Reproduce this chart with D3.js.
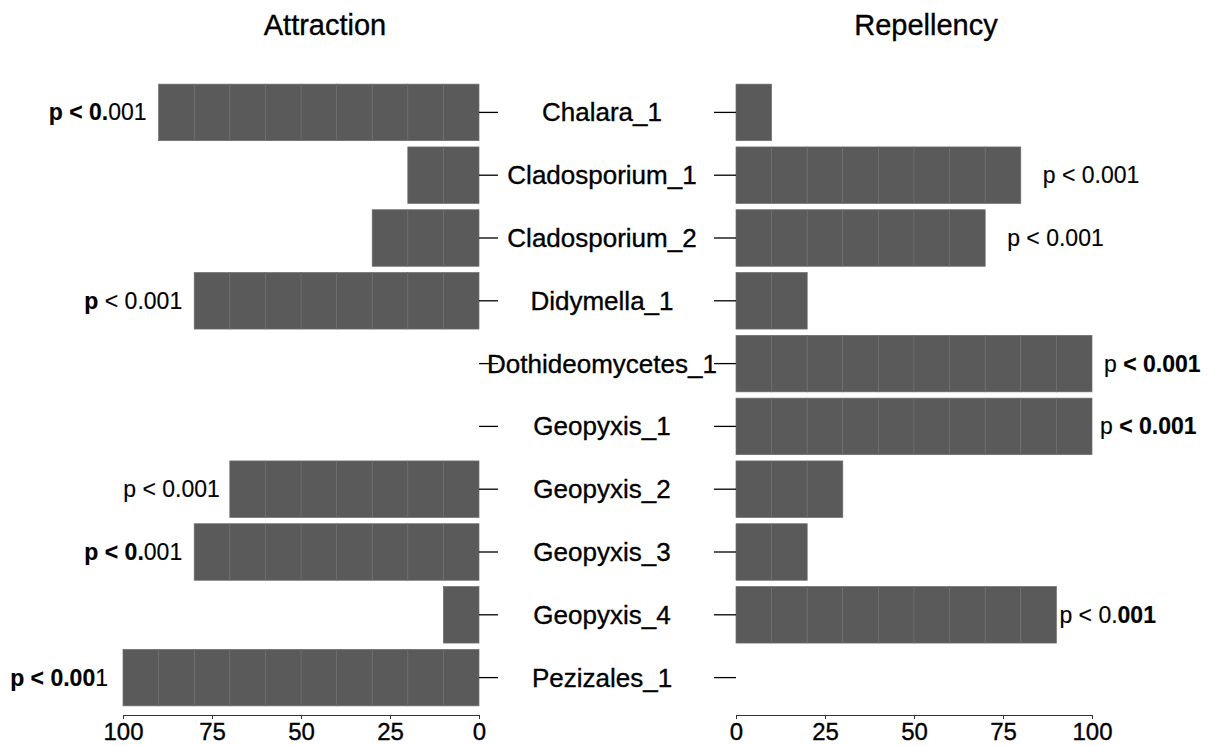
<!DOCTYPE html>
<html>
<head>
<meta charset="utf-8">
<style>
body { margin: 0; background: #fff; }
text { font-family: "Liberation Sans", Arial, sans-serif; fill: #000; stroke: #000; stroke-width: 0.35px; }
</style>
</head>
<body>
<svg id="chart" width="1214" height="746"></svg>
<script src="https://d3js.org/d3.v7.min.js"></script>
<script>

// taxa, top to bottom
const taxa = ["Chalara_1", "Cladosporium_1", "Cladosporium_2", "Didymella_1",
  "Dothideomycetes_1", "Geopyxis_1", "Geopyxis_2", "Geopyxis_3", "Geopyxis_4", "Pezizales_1"];

// percentages
const attraction = [90, 20, 30, 80, 0, 0, 70, 80, 10, 100];
const repellency = [10, 80, 70, 20, 100, 100, 30, 20, 90, 0];

const xTicks = [0, 25, 50, 75, 100];

// p labels, as [text, bold] pieces (the mixed weights are in the original)
const attractionP = [
  [["p < 0.", true], ["001", false]],
  null,
  null,
  [["p", true], [" < 0.001", false]],
  null,
  null,
  [["p < 0.001", false]],
  [["p < 0.", true], ["001", false]],
  null,
  [["p < 0.00", true], ["1", false]]
];
const repellencyP = [
  null,
  [["p < 0.001", false]],
  [["p < 0.001", false]],
  null,
  [["p ", false], ["< 0.001", true]],
  [["p ", false], ["< 0.001", true]],
  null,
  null,
  [["p < 0.", false], ["001", true]],
  null
];

// label gaps from bar end (px), hand placed in the original
const leftGap = [12, 12, 12, 12, 12, 12, 10, 12, 12, 15];
const rightGap = [22, 22, 22, 22, 12, 8, 22, 22, 3, 22];

const svg = d3.select("#chart");

const y = d3.scaleBand().domain(taxa).range([81, 709]).paddingInner(0.1).paddingOuter(0.05);
const xL = d3.scaleLinear().domain([0, 100]).range([479, 123]);
const xR = d3.scaleLinear().domain([0, 100]).range([736, 1092]);

const barFill = "#5a5a5a", segLine = "#6e6e6e";

function drawBars(g, values, x) {
  values.forEach((v, i) => {
    g.selectAll(null)
      .data(d3.range(0, v, 10))
      .join("rect")
      .attr("x", d => Math.min(x(d), x(d + 10)))
      .attr("width", d => Math.abs(x(d + 10) - x(d)))
      .attr("y", y(taxa[i]))
      .attr("height", y.bandwidth())
      .attr("fill", barFill)
      .attr("stroke", segLine)
      .attr("stroke-width", 0.7);
  });
}

drawBars(svg.append("g"), attraction, xL);
drawBars(svg.append("g"), repellency, xR);

// category ticks on both inner sides
svg.append("g")
  .attr("transform", "translate(479,0)")
  .call(d3.axisRight(y).tickSize(19).tickFormat(""))
  .call(g => g.select(".domain").remove())
  .selectAll("line").attr("stroke", "#000").attr("stroke-width", 1.3);

svg.append("g")
  .attr("transform", "translate(736,0)")
  .call(d3.axisLeft(y).tickSize(22).tickFormat(""))
  .call(g => g.select(".domain").remove())
  .selectAll("line").attr("stroke", "#000").attr("stroke-width", 1.3);

// category names in the middle
svg.append("g").selectAll("text")
  .data(taxa)
  .join("text")
  .attr("x", 602)
  .attr("y", d => y(d) + y.bandwidth() / 2 + 9)
  .attr("text-anchor", "middle")
  .style("font-size", "26px")
  .text(d => d);

// bottom axes
function bottomAxis(x) {
  const g = svg.append("g")
    .attr("transform", "translate(0,715)")
    .call(d3.axisBottom(x).tickValues(xTicks).tickSize(4).tickPadding(4));
  g.select(".domain").attr("stroke", "#333");
  g.selectAll(".tick line").attr("stroke", "#333");
  g.selectAll("text")
    .style("font-family", "'Liberation Sans', Arial, sans-serif")
    .style("font-size", "24px")
    .attr("fill", "#000");
}
bottomAxis(xL);
bottomAxis(xR);

// p labels
function pLabels(labels, values, x, gaps, side) {
  labels.forEach((parts, i) => {
    if (!parts) return;
    const xe = x(values[i]);
    const t = svg.append("text")
      .attr("x", side === "left" ? xe - gaps[i] : xe + gaps[i])
      .attr("y", y(taxa[i]) + y.bandwidth() / 2 + 8)
      .attr("text-anchor", side === "left" ? "end" : "start")
      .style("font-size", "23px")
      .style("stroke-width", "0.15px");
    parts.forEach(p => {
      t.append("tspan")
        .attr("font-weight", p[1] ? "bold" : "normal")
        .text(p[0]);
    });
  });
}
pLabels(attractionP, attraction, xL, leftGap, "left");
pLabels(repellencyP, repellency, xR, rightGap, "right");

// panel titles
svg.append("text").attr("x", 325).attr("y", 35).attr("text-anchor", "middle")
  .style("font-size", "29px").text("Attraction");
svg.append("text").attr("x", 926).attr("y", 35).attr("text-anchor", "middle")
  .style("font-size", "29px").text("Repellency");

</script>
</body>
</html>
